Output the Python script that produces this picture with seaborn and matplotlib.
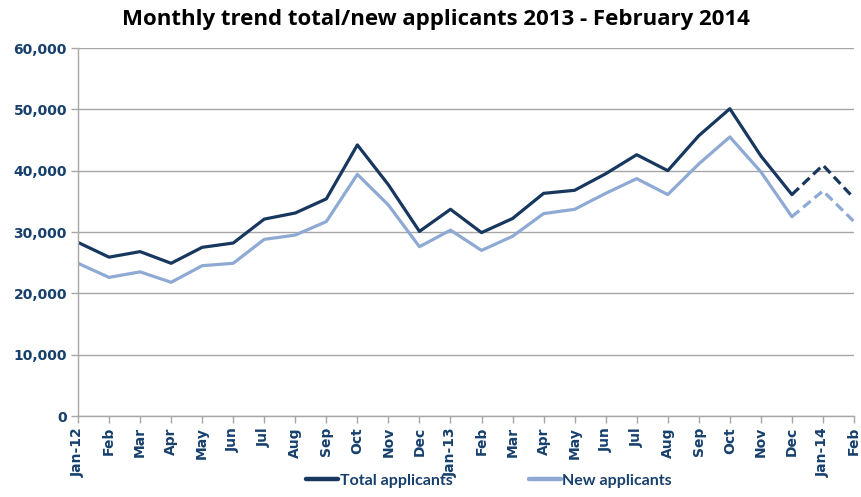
import numpy as np
import pandas as pd
import matplotlib
matplotlib.use("Agg")
import matplotlib.pyplot as plt
import seaborn as sns
from matplotlib.lines import Line2D

months = ["Jan-12", "Feb", "Mar", "Apr", "May", "Jun", "Jul", "Aug", "Sep", "Oct", "Nov", "Dec",
          "Jan-13", "Feb", "Mar", "Apr", "May", "Jun", "Jul", "Aug", "Sep", "Oct", "Nov", "Dec",
          "Jan-14", "Feb"]
total_applicants = [28300, 25900, 26800, 24900, 27500, 28200, 32100, 33100, 35400, 44200, 37700, 30100,
                    33700, 29900, 32200, 36300, 36800, 39500, 42600, 40000, 45700, 50100, 42400, 36100,
                    40900, 35500]
new_applicants = [24900, 22600, 23500, 21800, 24500, 24900, 28800, 29500, 31700, 39400, 34400, 27600,
                  30300, 27000, 29300, 33000, 33700, 36300, 38700, 36100, 41100, 45500, 39800, 32500,
                  36700, 31700]
n_actual = 24  # Jan-12 .. Dec-13 are actual figures, the rest dashed

navy = "#17375E"
light = "#8EA9D4"
label_col = "#17406D"

sns.set_theme(style="white")
plt.rcParams["font.family"] = ["DejaVu Sans"]

df = pd.DataFrame({"idx": np.arange(len(months)), "total": total_applicants, "new": new_applicants})
solid = df.iloc[:n_actual]
dashed = df.iloc[n_actual - 1:]

fig = plt.figure(figsize=(8.61, 4.97), dpi=100)
ax = fig.add_axes([78 / 861, 81 / 497, 776 / 861, 368 / 497])

sns.lineplot(data=solid, x="idx", y="total", ax=ax, color=navy, linewidth=2.3)
sns.lineplot(data=solid, x="idx", y="new", ax=ax, color=light, linewidth=2.3)
sns.lineplot(data=dashed, x="idx", y="total", ax=ax, color=navy, linewidth=2.3, linestyle=(0, (3, 1.6)))
sns.lineplot(data=dashed, x="idx", y="new", ax=ax, color=light, linewidth=2.3, linestyle=(0, (3, 1.6)))

ax.set_xlim(0, len(months) - 1)
ax.set_ylim(0, 60000)
ax.set_yticks(np.arange(0, 60001, 10000))
ax.set_yticklabels([f"{v:,}" for v in range(0, 60001, 10000)], fontsize=10, fontweight="bold", color=label_col)
ax.set_xticks(df["idx"])
ax.set_xticklabels(months, rotation=90, fontsize=10, fontweight="bold", color=label_col)
ax.set_xlabel("")
ax.set_ylabel("")
ax.yaxis.grid(True, color="#A6A6A6", linewidth=1)
ax.set_axisbelow(True)
for s in ["top", "right"]:
    ax.spines[s].set_visible(False)
for s in ["left", "bottom"]:
    ax.spines[s].set_color("#A6A6A6")
    ax.spines[s].set_linewidth(1)
ax.tick_params(axis="both", which="both", length=5, width=1, color="#A6A6A6", direction="out", pad=3)
ax.tick_params(axis="y", left=True)
ax.tick_params(axis="x", bottom=True)

fig.suptitle("Monthly trend total/new applicants 2013 - February 2014", x=0.506, y=0.982,
             fontsize=16, fontweight="bold", family="Open Sans", color="black")

handles = [Line2D([], [], color=navy, linewidth=3.2), Line2D([], [], color=light, linewidth=3.2)]
fig.legend(handles, ["Total applicants", "New applicants"], loc="lower center", ncol=2,
           bbox_to_anchor=(0.568, -0.01), frameon=False, handlelength=2.0, handletextpad=0.1,
           columnspacing=4.8, prop={"family": "Lato", "weight": "bold", "size": 11.5},
           labelcolor=label_col)

fig.savefig("out.png", dpi=100)
